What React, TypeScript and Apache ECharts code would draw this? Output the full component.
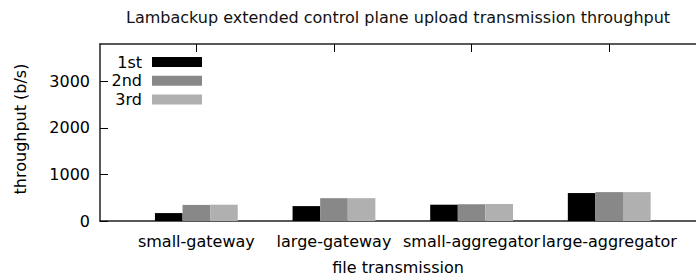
import React, { useEffect, useRef } from "react";
import * as echarts from "echarts";

const categories = ["small-gateway", "large-gateway", "small-aggregator", "large-aggregator"];
const seriesNames = ["1st", "2nd", "3rd"];
const firstRun = [170, 320, 350, 600];
const secondRun = [345, 490, 360, 620];
const thirdRun = [350, 490, 365, 620];
const yTicks = [0, 1000, 2000, 3000];
const colors = ["#000000", "#888888", "#b0b0b0"];

const FONT = "DejaVu Sans";

export default function App() {
  const ref = useRef<HTMLDivElement>(null);
  useEffect(() => {
    document.body.style.margin = "0";
    if (!ref.current) return;
    const chart = echarts.init(ref.current, undefined, { renderer: "svg" });
    const xPos = categories.map((_, i) => i);
    const runs = [firstRun, secondRun, thirdRun];
    const textStyle = { fontFamily: FONT, fontSize: 16, color: "#000" };
    chart.setOption({
      animation: false,
      backgroundColor: "#fff",
      textStyle: { fontFamily: FONT },
      title: {
        text: "Lambackup extended control plane upload transmission throughput",
        left: 126,
        top: 9,
        padding: 0,
        textStyle: { ...textStyle, fontWeight: "normal", color: "#111" },
      },
      legend: {
        orient: "vertical",
        align: "right",
        right: 489,
        top: 49,
        itemWidth: 50,
        itemHeight: 10,
        itemGap: 2.7,
        icon: "rect",
        data: seriesNames,
        textStyle: { ...textStyle, lineHeight: 16, padding: [0, 5, 0, 0] },
      },
      grid: {
        left: 100,
        top: 44,
        bottom: 55,
        width: 596,
        show: false,
        containLabel: false,
        outerBoundsMode: "none",
      },
      xAxis: [
        {
          type: "value",
          position: "bottom",
          min: -0.7,
          max: 3.6305,
          name: "file transmission",
          nameLocation: "middle",
          nameGap: 38,
          nameTextStyle: { ...textStyle, padding: [0, 0, 0, 0] },
          axisLine: { show: true, onZero: false, lineStyle: { color: "#222", width: 1.5 } },
          axisTick: { show: true, inside: true, length: 8, customValues: xPos, lineStyle: { color: "#000" } },
          axisLabel: {
            ...textStyle,
            margin: 12,
            hideOverlap: false,
            customValues: xPos,
            formatter: (v: number) => categories[Math.round(v)] ?? "",
          },
          splitLine: { show: false },
        },
        {
          type: "value",
          position: "top",
          min: -0.7,
          max: 3.6305,
          axisLine: { show: true, onZero: false, lineStyle: { color: "#222", width: 1.5 } },
          axisTick: { show: true, inside: true, length: 8, customValues: xPos, lineStyle: { color: "#000" } },
          axisLabel: { show: false },
          splitLine: { show: false },
        },
      ],
      yAxis: {
        type: "value",
        min: 0,
        max: 3800,
        position: "left",
        name: "throughput (b/s)",
        nameLocation: "middle",
        nameGap: 72,
        nameTextStyle: { ...textStyle, padding: [0, 0, 0, 7] },
        axisLine: { show: true, onZero: false, lineStyle: { color: "#222", width: 1.5 } },
        axisTick: { show: true, inside: true, length: 8, customValues: yTicks, lineStyle: { color: "#000" } },
        axisLabel: { ...textStyle, margin: 10, customValues: yTicks, formatter: (v: number) => String(v) },
        splitLine: { show: false },
      },
      series: runs.map((run, s) => ({
        name: seriesNames[s],
        type: "bar",
        xAxisIndex: 0,
        barWidth: 27.6,
        barGap: "0%",
        itemStyle: { color: colors[s] },
        data: run.map((v, i) => [xPos[i], v]),
      })),
    });
    return () => chart.dispose();
  }, []);
  return <div ref={ref} style={{ width: 696, height: 276, overflow: "hidden" }} />;
}
